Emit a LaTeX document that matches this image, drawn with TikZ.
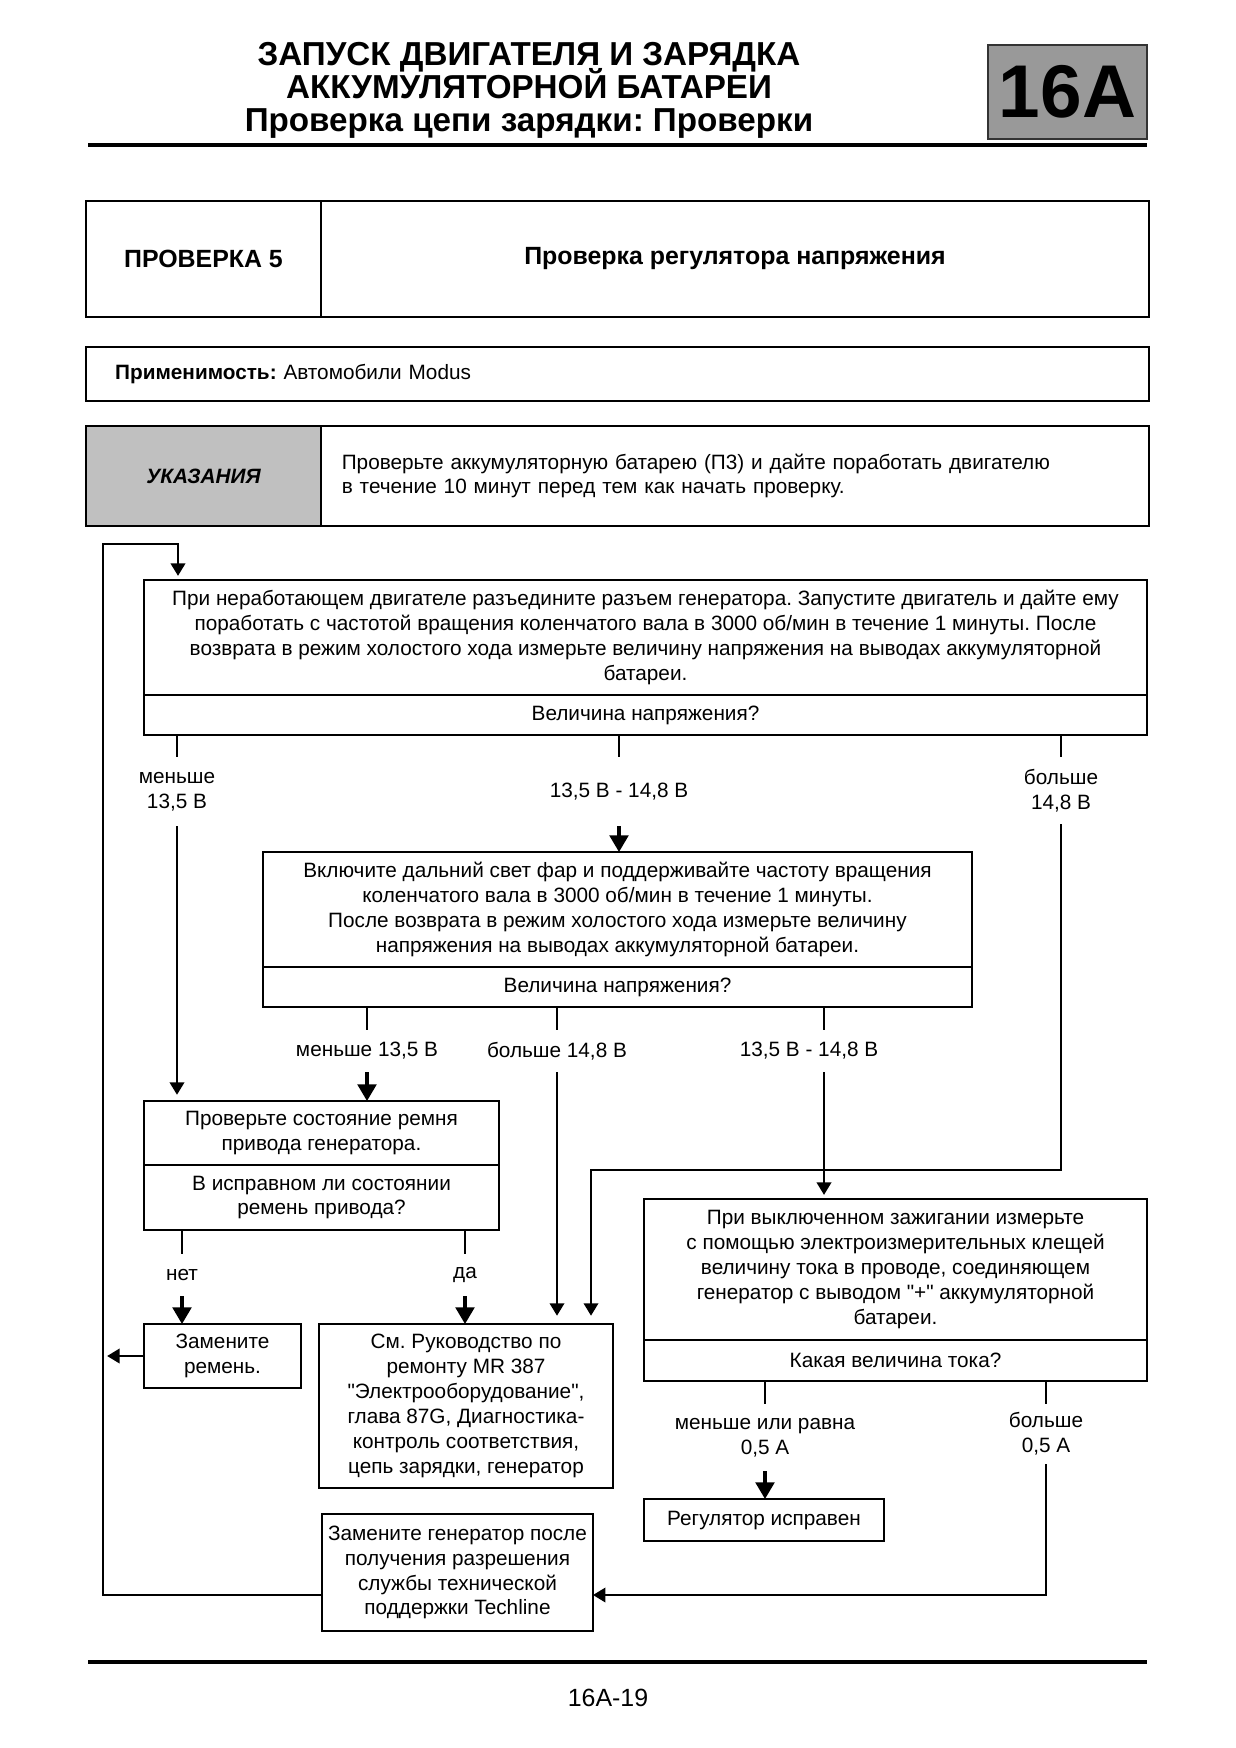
\documentclass[tikz,border=0pt]{standalone}
\usepackage{fontspec}
\setmainfont{Liberation Sans}[Ligatures=TeXOff]
\frenchspacing
\usetikzlibrary{positioning}
\usetikzlibrary{arrows.meta}

\definecolor{secgray}{HTML}{999999}
\definecolor{notegray}{HTML}{C0C0C0}

\tikzset{
  box/.style 2 args={draw, line width=1pt, inner sep=0pt, outer sep=0pt, align=center,
    minimum width=#1*0.4818pt, minimum height=#2*0.4818pt,
    font=\fontsize{10}{12}\selectfont, anchor=north west},
  lbl/.style={inner sep=0pt, outer sep=0pt, align=center, minimum height=#1*0.4818pt,
    font=\fontsize{10}{12}\selectfont},
  line/.style={line width=1pt},
  arr/.style={line width=1pt, -{Triangle[width=7pt,length=6pt]}, shorten >=2pt},
  bigarr/.style={line width=1.5pt, -{Triangle[width=9pt,length=8pt]}},
  rule/.style={line width=1.8pt},
}

\begin{document}
\begin{tikzpicture}[x=0.4818pt, y=-0.4818pt]
    \path[use as bounding box, fill=white] (0,0) rectangle (1235,1748);

    % header
    \node[anchor=base, font=\bfseries\fontsize{16}{16}\selectfont] (title1) at (529,66) {ЗАПУСК ДВИГАТЕЛЯ И ЗАРЯДКА};
    \node[anchor=base, font=\bfseries\fontsize{16}{16}\selectfont] (title2) at (529,99) {АККУМУЛЯТОРНОЙ БАТАРЕИ};
    \node[anchor=base, font=\bfseries\fontsize{16}{16}\selectfont] (title3) at (529,132) {Проверка цепи зарядки: Проверки};
    \node[box={159}{94}, fill=secgray, draw=black!80, font=\bfseries\fontsize{36}{36}\selectfont] (sec) at (988,45) {16A};
    \draw[rule] (88,145) -- (1147,145);

    \node[box={235}{116}, font=\bfseries\fontsize{12}{14}\selectfont] (chk) at (86,201) {ПРОВЕРКА 5};
    \node[box={828}{116}, right=0pt of chk, font=\bfseries\fontsize{12}{14}\selectfont] (chktitle) {Проверка регулятора напряжения};
    \node[box={1063}{54}, align=left, text width=484pt, inner xsep=14pt] (appl) at (86,347) {\textbf{Применимость:} Автомобили Modus};
    \node[box={235}{100}, fill=notegray, font=\bfseries\itshape\fontsize{10}{12}\selectfont] (note) at (86,426) {УКАЗАНИЯ};
    \node[box={828}{100}, right=0pt of note, align=left, text width=378.9pt, inner xsep=10pt, font=\fontsize{10}{11.6}\selectfont] (notetext)
        {Проверьте аккумуляторную батарею (П3) и дайте поработать двигателю\\в течение 10 минут перед тем как начать проверку.};

    % boxes
    \node[box={1003}{115}] (A) at (144,580) {При неработающем двигателе разъедините разъем генератора. Запустите двигатель и дайте ему\\поработать с частотой вращения коленчатого вала в 3000 об/мин в течение 1 минуты. После\\возврата в режим холостого хода измерьте величину напряжения на выводах аккумуляторной\\батареи.};
    \node[box={1003}{40}, below=0pt of A] (Aq) {Величина напряжения?};
    \node[box={709}{115}] (B) at (263,852) {Включите дальний свет фар и поддерживайте частоту вращения\\коленчатого вала в 3000 об/мин в течение 1 минуты.\\После возврата в режим холостого хода измерьте величину\\напряжения на выводах аккумуляторной батареи.};
    \node[box={709}{40}, below=0pt of B] (Bq) {Величина напряжения?};
    \node[box={355}{64}] (C) at (144,1101) {Проверьте состояние ремня\\привода генератора.};
    \node[box={355}{65}, below=0pt of C] (Cq) {В исправном ли состоянии\\ремень привода?};
    \node[box={157}{64}] (D) at (144,1324) {Замените\\ремень.};
    \node[box={294}{164}] (E) at (319,1324) {См. Руководство по\\ремонту MR 387\\"Электрооборудование",\\глава 87G, Диагностика-\\контроль соответствия,\\цепь зарядки, генератор};
    \node[box={271}{117}] (F) at (322,1514) {Замените генератор после\\получения разрешения\\службы технической\\поддержки Techline};
    \node[box={503}{141}] (G) at (644,1199) {При выключенном зажигании измерьте\\с помощью электроизмерительных клещей\\величину тока в проводе, соединяющем\\генератор с выводом "+" аккумуляторной\\батареи.};
    \node[box={503}{41}, below=0pt of G] (Gq) {Какая величина тока?};
    \node[box={240}{42}] (H) at (644,1499) {Регулятор исправен};

    % branch labels
    \node[lbl=69] (m1) at (177,791.5) {меньше\\13,5 В};
    \node[lbl=69] (m2) at (619,791.5) {13,5 В - 14,8 В};
    \node[lbl=67] (m3) at (1061,790.5) {больше\\14,8 В};
    \node[lbl=42] (n1) at (367,1051) {меньше 13,5 В};
    \node[lbl=42] (n2) at (557,1051) {больше 14,8 В};
    \node[lbl=42] (n3) at (809,1051) {13,5 В - 14,8 В};
    \node[lbl=42] (k1) at (182,1275) {нет};
    \node[lbl=42] (k2) at (465,1275) {да};
    \node[lbl=67] (g1) at (765,1437.5) {меньше или равна\\0,5 А};
    \node[lbl=60] (g2) at (1046,1434) {больше\\0,5 А};
    \coordinate (loop) at (103,544);

    % connectors
    \draw[line] (Aq.south -| m1) -- (m1.north);
    \draw[arr, shorten >=3pt] (m1.south) -- (C.north -| m1);
    \draw[line] (Aq.south -| m2) -- (m2.north);
    \draw[bigarr] (m2.south) -- (B.north -| m2);
    \draw[line] (Aq.south -| m3) -- (m3.north);
    \draw[arr, shorten >=4pt] (m3.south) -- (m3 |- 0,1170) -| (E.north -| 591,0);

    \draw[line] (Bq.south -| n1) -- (n1.north);
    \draw[bigarr] (n1.south) -- (C.north -| n1);
    \draw[line] (Bq.south -| n2) -- (n2.north);
    \draw[arr, shorten >=4pt] (n2.south) -- (E.north -| n2);
    \draw[line] (Bq.south -| 824,0) -- (n3.north -| 824,0);
    \draw[arr] (n3.south -| 824,0) -- (G.north -| 824,0);

    \draw[line] (Cq.south -| k1) -- (k1.north);
    \draw[bigarr] (k1.south) -- (D.north -| k1);
    \draw[line] (Cq.south -| k2) -- (k2.north);
    \draw[bigarr] (k2.south) -- (E.north -| k2);

    \draw[line] (Gq.south -| g1) -- (g1.north);
    \draw[bigarr] (g1.south) -- (H.north -| g1);
    \draw[line] (Gq.south -| g2) -- (g2.north);
    \draw[arr, shorten >=0pt] (g2.south) |- (F.east |- 0,1595);

    \draw[arr] (D.west) -- (D.west -| loop);
    \draw[arr] (F.west |- 0,1595) -| (loop) -| (A.north -| 178,0);

    % footer
    \draw[rule] (88,1662) -- (1147,1662);
    \node[anchor=base, font=\fontsize{12}{14}\selectfont] (pageno) at (608,1706) {16A-19};
\end{tikzpicture}
\end{document}
